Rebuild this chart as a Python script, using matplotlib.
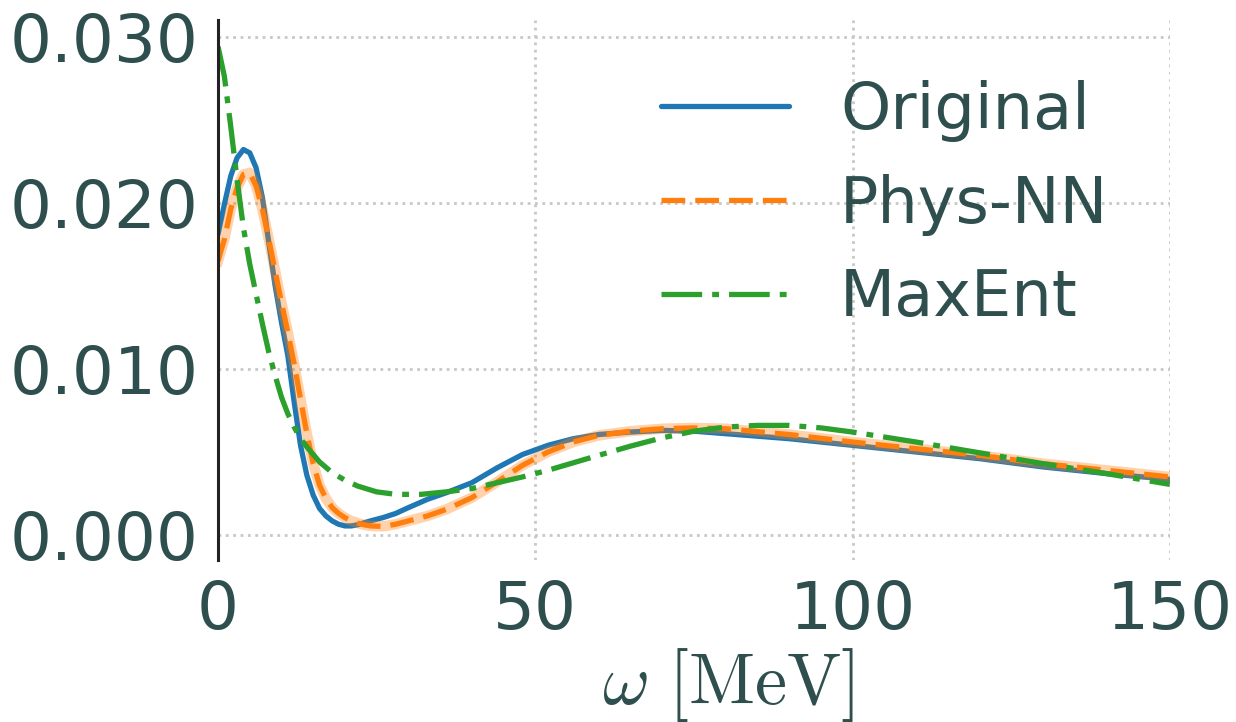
import matplotlib
matplotlib.use('Agg')
import matplotlib.pyplot as plt
from matplotlib.ticker import FormatStrFormatter

# スペクトル関数の比較 (Original / Phys-NN / MaxEnt)

omega_orig = [0, 1, 2, 3, 4, 5, 6, 7, 8, 9, 10, 11, 12, 13, 14, 15, 16, 17, 18, 19, 20, 21, 22,
              24, 26, 28, 30, 33, 36, 40, 44, 48, 52, 56, 60, 65, 70, 75, 80, 90, 100, 110, 120,
              130, 140, 150]
rho_orig = [18.1, 19.9, 21.6, 22.7, 23.2, 23.0, 22.1, 20.3, 17.6, 15.0, 12.8, 10.8, 8.0, 5.4,
            3.6, 2.4, 1.6, 1.15, 0.85, 0.65, 0.55, 0.55, 0.62, 0.85, 1.05, 1.3, 1.65, 2.15, 2.55,
            3.15, 4.05, 4.85, 5.4, 5.8, 6.05, 6.2, 6.3, 6.25, 6.1, 5.8, 5.4, 5.0, 4.6, 4.1, 3.7,
            3.35]

omega_nn = [0, 1, 2, 3, 4, 5, 6, 7, 8, 9, 10, 11, 12, 13, 14, 15, 16, 17, 18, 19, 20, 21, 22, 23,
            24, 26, 28, 30, 33, 36, 40, 44, 48, 52, 56, 60, 65, 70, 75, 80, 90, 100, 110, 120,
            130, 140, 150]
rho_nn = [16.5, 17.8, 19.6, 20.9, 21.7, 21.8, 21.0, 19.6, 17.8, 15.9, 14.0, 12.2, 10.3, 8.2, 6.1,
          4.3, 3.0, 2.2, 1.65, 1.3, 1.05, 0.85, 0.72, 0.62, 0.55, 0.52, 0.65, 0.85, 1.15, 1.55,
          2.25, 3.2, 4.2, 5.0, 5.6, 6.0, 6.25, 6.4, 6.45, 6.4, 6.05, 5.6, 5.2, 4.8, 4.3, 3.9, 3.5]

omega_me = [0, 1, 2, 3, 4, 5, 6, 7, 8, 9, 10, 11, 12, 13, 14, 16, 18, 20, 22, 25, 28, 32, 36, 40,
            44, 48, 52, 56, 60, 65, 70, 75, 80, 85, 90, 95, 100, 110, 120, 130, 140, 150]
rho_me = [29.4, 27.6, 24.6, 21.4, 18.5, 16.3, 14.5, 12.7, 11.0, 9.6, 8.3, 7.3, 6.5, 5.8, 5.3, 4.4,
          3.75, 3.3, 2.95, 2.6, 2.45, 2.45, 2.6, 2.8, 3.15, 3.5, 3.9, 4.35, 4.8, 5.35, 5.85, 6.25,
          6.5, 6.6, 6.6, 6.45, 6.2, 5.6, 4.95, 4.3, 3.7, 3.05]

y_ticks = [0.0, 0.01, 0.02, 0.03]
x_ticks = [0, 50, 100, 150]

text_color = '#2f4f4f'
plt.rcParams['mathtext.fontset'] = 'cm'

fig = plt.figure(figsize=(12.36, 7.22), dpi=100)
ax = fig.add_axes([0.1764, 0.2244, 0.770, 0.748])

s = 1e-3
ax.plot(omega_orig, [v * s for v in rho_orig], color='#1f77b4', lw=3.8, label='Original',
        solid_capstyle='round')
# 不確かさの帯 (薄いオレンジ)
ax.plot(omega_nn, [v * s for v in rho_nn], color='#ff7f0e', lw=7.5, alpha=0.35)
ax.plot(omega_nn, [v * s for v in rho_nn], color='#ff7f0e', lw=3.8, dashes=(4.5, 1.9),
        label='Phys-NN')
ax.plot(omega_me, [v * s for v in rho_me], color='#2ca02c', lw=3.8,
        dashes=(7.7, 1.9, 1.3, 1.9), label='MaxEnt')

ax.set_xlim(0, 150)
ax.set_ylim(-0.0015, 0.031)
ax.set_xticks(x_ticks)
ax.set_yticks(y_ticks)
ax.yaxis.set_major_formatter(FormatStrFormatter('%.3f'))
ax.tick_params(length=0, labelsize=47.5, labelcolor=text_color, pad=14)

ax.grid(True, linestyle=':', color='#c8c8c8', lw=2)
for side in ['top', 'right', 'bottom']:
    ax.spines[side].set_visible(False)
ax.spines['left'].set_color('#222222')
ax.spines['left'].set_linewidth(2.2)

ax.set_xlabel(r'$\omega\ [\mathrm{MeV}]$', fontsize=52, color=text_color)
ax.xaxis.set_label_coords(0.536, -0.16)

leg = ax.legend(loc='upper right', bbox_to_anchor=(0.996, 0.996), frameon=False, fontsize=46)
for t in leg.get_texts():
    t.set_color(text_color)

fig.savefig('out.png', dpi=100)
